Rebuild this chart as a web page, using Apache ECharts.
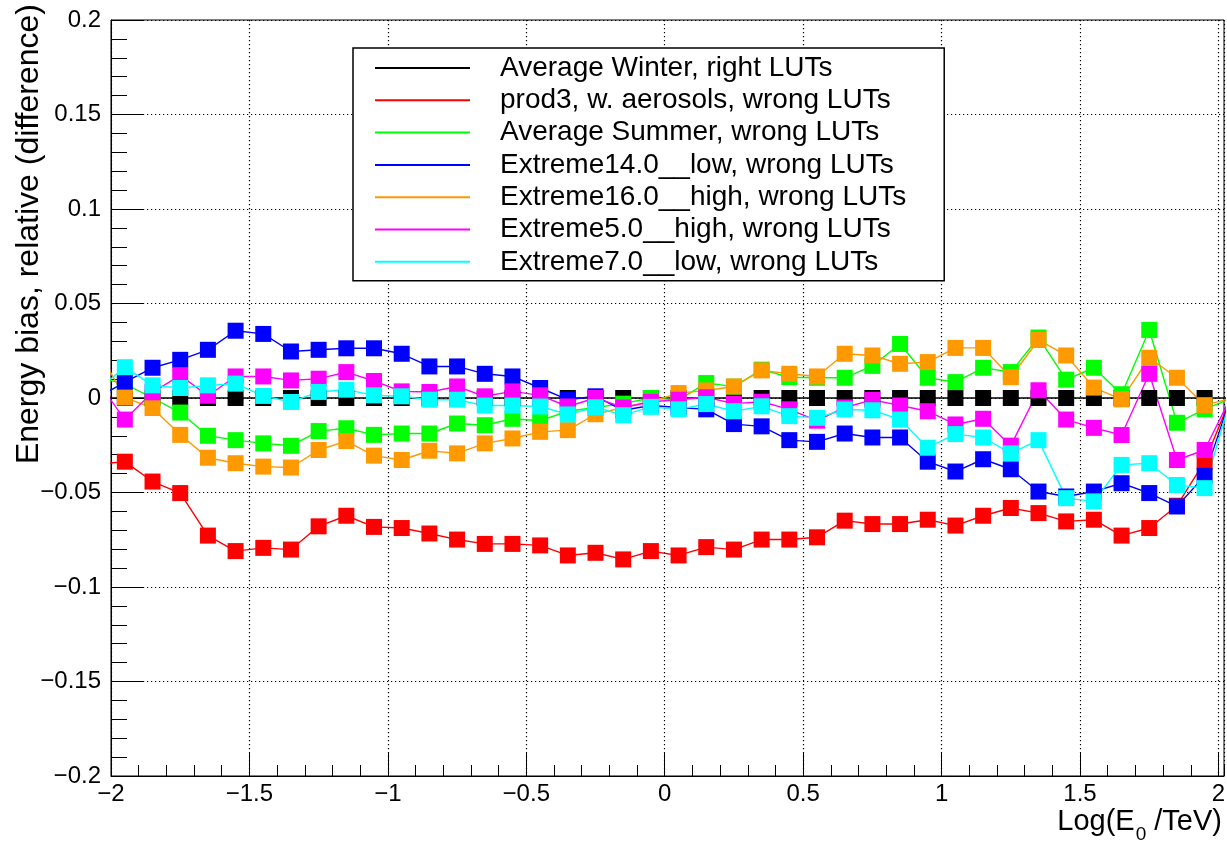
<!DOCTYPE html>
<html>
<head>
<meta charset="utf-8">
<script src="https://cdn.jsdelivr.net/npm/echarts@6/dist/echarts.min.js"></script>
<style>
html,body{margin:0;padding:0;background:#fff;}
#chart{width:1227px;height:846px;}
</style>
</head>
<body>
<div id="chart"></div>
<script>
// Bin centres of Log(E0/TeV)
const xCenters = [-2.05, -1.95, -1.85, -1.75, -1.65, -1.55, -1.45, -1.35, -1.25, -1.15, -1.05,
  -0.95, -0.85, -0.75, -0.65, -0.55, -0.45, -0.35, -0.25, -0.15, -0.05,
  0.05, 0.15, 0.25, 0.35, 0.45, 0.55, 0.65, 0.75, 0.85, 0.95,
  1.05, 1.15, 1.25, 1.35, 1.45, 1.55, 1.65, 1.75, 1.85, 1.95, 2.05];

const seriesNames = [
  'Average Winter, right LUTs',
  'prod3, w. aerosols, wrong LUTs',
  'Average Summer, wrong LUTs',
  'Extreme14.0__low, wrong LUTs',
  'Extreme16.0__high, wrong LUTs',
  'Extreme5.0__high, wrong LUTs',
  'Extreme7.0__low, wrong LUTs'
];

const avgWinter = [0, 0, 0, 0, 0, 0, 0, 0, 0, 0, 0,
  0, 0, 0, 0, 0, 0, 0, 0, 0, 0,
  0, 0, 0, 0, 0, 0, 0, 0, 0, 0,
  0, 0, 0, 0, 0, 0, 0, 0, 0, 0, 0];

const prod3 = [-0.035, -0.0337, -0.0442, -0.0503, -0.0728, -0.081, -0.0793, -0.0802, -0.0679, -0.0623, -0.0682,
  -0.0688, -0.0717, -0.0749, -0.0772, -0.0772, -0.078, -0.0833, -0.0819, -0.0854, -0.081,
  -0.0833, -0.0789, -0.0802, -0.0749, -0.0749, -0.0737, -0.0649, -0.0667, -0.0667, -0.0644,
  -0.0675, -0.0623, -0.0582, -0.0609, -0.0653, -0.0644, -0.0728, -0.0688, -0.057, -0.0337, 0.002];

const avgSummer = [0.011, 0.0075, 0.0, -0.0077, -0.02, -0.0223, -0.024, -0.0253, -0.0175, -0.016, -0.0195,
  -0.0188, -0.0188, -0.0135, -0.0144, -0.011, -0.012, -0.007, -0.005, -0.003, 0.0,
  -0.001, 0.0079, 0.006, 0.015, 0.011, 0.0107, 0.0107, 0.017, 0.0286, 0.0107,
  0.0084, 0.016, 0.0137, 0.032, 0.0097, 0.016, 0.002, 0.036, -0.0131, -0.006, 0.0];

const ext14low = [0.0, 0.0084, 0.016, 0.0202, 0.0255, 0.0356, 0.0339, 0.0246, 0.0255, 0.0263, 0.0263,
  0.0234, 0.0167, 0.0167, 0.0128, 0.0114, 0.0053, -0.0009, 0.0009, -0.0065, -0.004,
  -0.005, -0.006, -0.0138, -0.015, -0.0223, -0.0232, -0.0188, -0.0209, -0.0209, -0.0337,
  -0.0389, -0.0324, -0.0377, -0.0495, -0.0521, -0.0495, -0.0451, -0.0503, -0.0574, -0.0412, 0.003];

const ext16high = [0.026, 0.0002, -0.0053, -0.0195, -0.0316, -0.0345, -0.0363, -0.0368, -0.0275, -0.0228, -0.0305,
  -0.0328, -0.0279, -0.0293, -0.024, -0.0214, -0.0179, -0.017, -0.0086, -0.005, -0.002,
  0.0026, 0.004, 0.0061, 0.0146, 0.0128, 0.0114, 0.0234, 0.0225, 0.0181, 0.019,
  0.0265, 0.0265, 0.011, 0.0307, 0.0225, 0.0055, -0.0007, 0.0213, 0.0107, -0.0038, 0.0];

const ext5high = [0.009, -0.0114, 0.003, 0.012, 0.0012, 0.0114, 0.0114, 0.0093, 0.0102, 0.0137, 0.009,
  0.0035, 0.0032, 0.0061, 0.0009, 0.0035, 0.0014, -0.0045, 0.0, -0.005, -0.002,
  -0.0009, 0.0004, -0.003, -0.002, -0.006, -0.012, -0.005, -0.001, -0.004, -0.007,
  -0.014, -0.011, -0.0252, 0.0041, -0.0114, -0.0158, -0.0196, 0.0128, -0.0328, -0.0275, 0.002];

const ext7low = [0.004, 0.0163, 0.0067, 0.0053, 0.0067, 0.0076, 0.0011, -0.0021, 0.0032, 0.0044, 0.0014,
  0.0009, -0.0009, -0.0009, -0.004, -0.004, -0.0045, -0.0087, -0.0049, -0.0091, -0.0047,
  -0.006, -0.0032, -0.007, -0.0044, -0.0096, -0.0105, -0.0061, -0.0065, -0.0114, -0.0263,
  -0.0191, -0.0209, -0.0293, -0.0223, -0.053, -0.0547, -0.0354, -0.0345, -0.046, -0.0477, 0.003];

const seriesValues = [avgWinter, prod3, avgSummer, ext14low, ext16high, ext5high, ext7low];
const seriesColors = ['#000000', '#ff0000', '#00ff00', '#0000ff', '#ff9900', '#ff00ff', '#00ffff'];

const FONT = "'Liberation Sans', Arial, sans-serif";
const fmt = v => String(parseFloat(Number(v).toFixed(3))).replace('-', '\u2212');

const chart = echarts.init(document.getElementById('chart'), null, {renderer: 'canvas'});

const series = seriesNames.map((name, i) => ({
  name: name,
  type: 'line',
  xAxisIndex: 0,
  yAxisIndex: 0,
  data: xCenters.map((x, k) => [x, seriesValues[i][k]]),
  symbol: 'rect',
  symbolSize: 16,
  showAllSymbol: true,
  clip: true,
  animation: false,
  lineStyle: {color: seriesColors[i], width: 1.4},
  itemStyle: {color: seriesColors[i], borderWidth: 0},
  emphasis: {disabled: true}
}));

const option = {
  animation: false,
  backgroundColor: '#ffffff',
  grid: {
    left: 111, right: 3, top: 20, bottom: 70,
    show: true, borderColor: '#000', borderWidth: 1,
    backgroundColor: 'transparent',
    containLabel: false,
    outerBoundsMode: 'none'
  },
  xAxis: [{
    type: 'value',
    min: -2, max: 2.02, interval: 0.5,
    axisLine: {show: true, onZero: false, lineStyle: {color: '#000', width: 1}},
    axisTick: {show: true, inside: true, length: 23, lineStyle: {color: '#000', width: 1}},
    minorTick: {show: false},
    splitLine: {show: true, lineStyle: {color: '#000', width: 1.2, type: [1.2, 2.8]}},
    axisLabel: {
      show: true, color: '#000', fontSize: 24, fontFamily: FONT, margin: 6,
      showMaxLabel: false, formatter: fmt
    }
  }, {
    type: 'value',
    min: -2, max: 2.02, interval: 0.1,
    position: 'bottom',
    axisLine: {show: false, onZero: false},
    axisTick: {show: true, inside: true, length: 11, lineStyle: {color: '#000', width: 1}},
    splitLine: {show: false},
    axisLabel: {show: false}
  }],
  yAxis: {
    type: 'value',
    min: -0.2, max: 0.2, interval: 0.05,
    axisLine: {show: true, onZero: false, lineStyle: {color: '#000', width: 1}},
    axisTick: {show: true, inside: true, length: 33, lineStyle: {color: '#000', width: 1}},
    minorTick: {show: true, splitNumber: 5, length: 16, lineStyle: {color: '#000', width: 1}},
    splitLine: {show: true, lineStyle: {color: '#000', width: 1.2, type: [1.2, 2.8]}},
    axisLabel: {color: '#000', fontSize: 24, fontFamily: FONT, margin: 10, formatter: fmt}
  },
  legend: {
    show: true,
    orient: 'vertical',
    left: 353, top: 48,
    padding: [6, 38, 5, 22],
    itemWidth: 95, itemHeight: 2, itemGap: 4.3,
    icon: 'rect',
    backgroundColor: '#ffffff',
    borderColor: '#000', borderWidth: 1.5, borderRadius: 0,
    selectedMode: false,
    textStyle: {fontSize: 28, color: '#000', fontFamily: FONT, padding: [0, 0, 0, 25], lineHeight: 28},
    data: seriesNames.map((n, i) => ({name: n, itemStyle: {color: seriesColors[i]}}))
  },
  graphic: [{
    type: 'text',
    x: 29, y: 4,
    rotation: Math.PI / 2,
    style: {
      text: 'Energy bias, relative (difference)',
      font: "32px " + FONT,
      fill: '#000',
      textAlign: 'right',
      textVerticalAlign: 'middle'
    }
  }, {
    type: 'text',
    x: 1222, y: 822,
    style: {
      text: 'Log(E{sub|0}{n| /TeV)}',
      fill: '#000',
      textAlign: 'right',
      textVerticalAlign: 'middle',
      font: "29px " + FONT,
      rich: {
        sub: {fontSize: 19, fontFamily: FONT, fill: '#000', padding: [26, 0, 0, 1]},
        n: {fontSize: 29, fontFamily: FONT, fill: '#000'}
      }
    }
  }],
  series: series
};

chart.setOption(option);
</script>
</body>
</html>
